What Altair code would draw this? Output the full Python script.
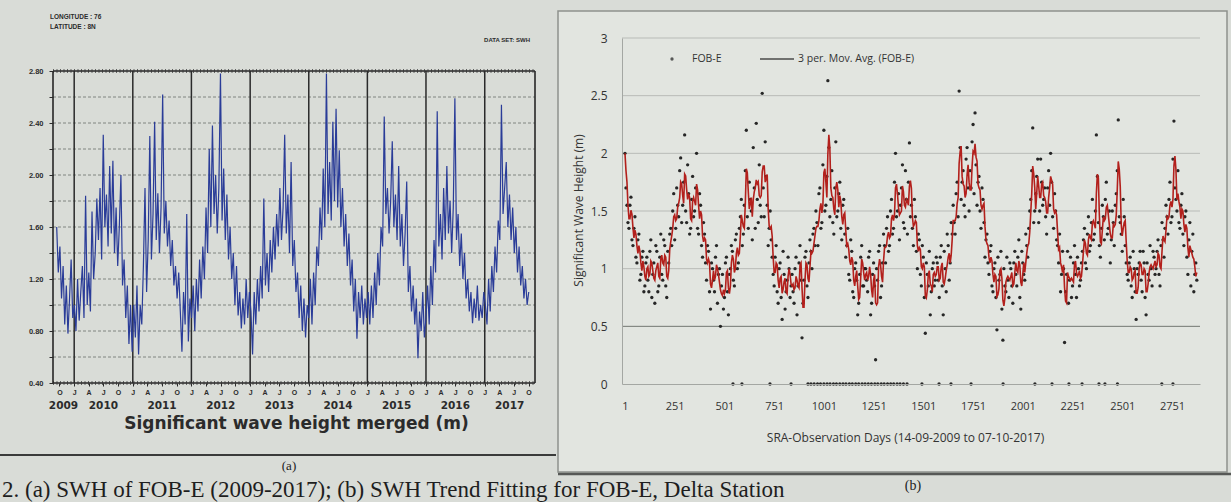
import altair as alt
import pandas as pd

# ---------------------------------------------------------------
# (a) merged significant wave height, 10-day samples from 14-09-2009
# ---------------------------------------------------------------
swh_2009 = [1.60, 1.25, 1.45, 1.05, 1.30, 0.85, 1.15, 0.78, 1.05, 1.35, 0.90]
swh_2010 = [1.00, 0.80, 1.20, 0.88, 1.10, 1.30, 0.90, 1.84, 1.00, 1.25, 0.95, 1.72,
            1.20, 1.40, 1.82, 1.50, 1.90, 1.35, 2.31, 1.60, 1.85, 1.45, 2.07, 1.55,
            2.11, 1.40, 1.75, 1.30, 1.60, 2.00, 1.15, 1.35, 0.90, 1.15, 0.70, 1.00, 0.64]
swh_2011 = [1.00, 0.75, 1.15, 0.62, 1.00, 0.85, 1.30, 1.90, 1.10, 1.50, 2.30, 1.35,
            1.70, 2.41, 1.50, 1.86, 1.40, 1.75, 2.62, 1.55, 1.80, 1.45, 1.65, 1.30,
            1.50, 1.15, 1.30, 1.05, 1.25, 0.95, 0.64, 1.10, 0.85, 1.70, 0.72, 1.05]
swh_2012 = [0.90, 1.15, 0.80, 1.20, 0.95, 1.35, 1.05, 1.45, 1.20, 1.75, 1.40, 2.20,
            1.60, 2.38, 1.70, 2.00, 1.55, 1.90, 2.78, 1.65, 2.05, 1.50, 1.85, 1.35,
            1.60, 1.20, 1.40, 1.00, 1.30, 0.92, 1.10, 0.82, 1.05, 0.85, 1.20, 0.90, 1.10]
swh_2013 = [0.95, 0.62, 1.10, 0.85, 1.20, 0.95, 1.30, 1.05, 1.82, 1.15, 1.40, 1.10,
            1.50, 1.25, 1.60, 1.35, 1.70, 1.45, 1.90, 1.50, 1.75, 2.31, 1.55, 1.85,
            1.40, 2.10, 1.30, 1.50, 1.10, 1.25, 0.90, 1.15, 0.80, 1.05, 0.75, 1.00]
swh_2014 = [0.90, 1.20, 0.85, 1.25, 1.00, 1.45, 1.30, 1.75, 1.50, 2.05, 1.60, 2.78,
            1.70, 2.10, 1.65, 2.41, 1.80, 2.51, 1.75, 2.19, 1.60, 1.90, 1.45, 1.70,
            1.30, 1.55, 1.15, 1.35, 0.95, 1.20, 0.74, 1.10, 0.90, 1.15, 0.85, 1.05, 0.90]
swh_2015 = [1.10, 0.85, 1.15, 0.90, 1.25, 1.00, 1.40, 1.15, 1.60, 1.45, 2.45, 1.70,
            1.90, 1.55, 1.80, 2.26, 1.60, 1.85, 1.50, 2.07, 1.45, 1.70, 1.30, 1.55,
            1.95, 1.10, 1.30, 0.95, 1.15, 0.85, 1.05, 0.59, 0.95, 0.80, 1.10, 0.75]
swh_2016 = [0.90, 1.15, 0.85, 1.30, 1.00, 1.50, 1.25, 2.49, 1.45, 1.70, 1.35, 1.90,
            1.50, 2.07, 1.55, 1.80, 1.40, 1.75, 2.59, 1.50, 1.70, 1.30, 1.55, 1.20,
            1.40, 1.05, 1.20, 0.95, 1.10, 0.86, 1.05, 0.90, 1.15, 0.88, 1.00, 0.90, 1.10]
swh_2017 = [1.00, 0.85, 1.20, 0.95, 1.30, 1.10, 1.45, 1.25, 1.65, 1.50, 2.54, 1.70,
            1.90, 2.10, 1.60, 1.85, 1.50, 1.75, 1.40, 1.60, 1.25, 1.45, 1.15, 1.30,
            1.05, 1.20, 1.00, 1.10]

merged_swh = (swh_2009 + swh_2010 + swh_2011 + swh_2012 + swh_2013
              + swh_2014 + swh_2015 + swh_2016 + swh_2017)
merged_df = pd.DataFrame({
    "date": pd.date_range("2009-09-14", periods=len(merged_swh), freq="10D"),
    "swh": merged_swh,
})

# ---------------------------------------------------------------
# (b) FOB-E buoy SWH against SRA observation day
#     readings on days 1, 11, 21, ... and on days 6, 16, 26, ...
# ---------------------------------------------------------------
fob_2009 = [2.00, 1.55, 1.35, 1.62, 1.20, 1.45, 1.05, 1.30, 0.95, 1.15, 0.85]
fob_2010 = [1.10, 0.80, 1.25, 0.95, 0.70, 1.15, 0.85, 1.30, 0.90, 1.20, 0.75, 1.05,
            1.35, 1.50, 1.25, 1.70, 1.45, 1.96, 1.55, 2.16, 1.40, 1.65, 1.35, 1.80,
            1.50, 2.00, 1.30, 1.55, 1.10, 1.30, 0.90, 1.15, 0.65, 1.00, 0.80, 1.20, 0.95]
fob_2011 = [0.50, 0.95, 0.75, 1.10, 0.60, 1.00, 1.15, 0.85, 1.30, 1.05, 1.45, 1.20,
            1.55, 2.20, 1.35, 1.60, 1.25, 1.70, 2.26, 1.40, 1.55, 2.52, 1.45, 1.80,
            1.20, 1.50, 1.10, 0.85, 1.20, 0.70, 1.05, 0.56, 0.95, 0.80, 1.10, 0.75]
fob_2012 = [0.95, 0.70, 1.10, 0.85, 1.20, 0.40, 0.90, 1.15, 0.75, 1.25, 1.00, 1.35,
            1.50, 1.20, 1.70, 1.40, 2.20, 1.55, 2.63, 1.45, 1.85, 1.30, 2.10, 1.50,
            1.75, 1.25, 1.60, 1.10, 1.35, 0.90, 1.15, 0.75, 1.05, 0.60, 0.95, 1.20, 0.85]
fob_2013 = [1.00, 0.80, 1.15, 0.70, 1.05, 0.21, 0.90, 1.20, 0.85, 1.30, 1.05, 1.45,
            1.20, 1.60, 1.35, 2.00, 1.50, 1.25, 1.70, 1.40, 1.85, 1.30, 2.09, 1.55,
            1.20, 1.45, 1.00, 1.25, 0.85, 1.10, 0.44, 0.95, 1.15, 0.80, 1.05, 0.90]
fob_2014 = [1.05, 0.75, 1.20, 0.60, 1.00, 1.30, 0.90, 1.40, 1.55, 1.30, 1.75, 2.54,
            1.60, 1.85, 1.45, 2.05, 1.50, 1.70, 2.25, 2.35, 1.55, 1.80, 1.35, 1.60,
            1.10, 1.30, 0.95, 1.20, 0.80, 1.05, 0.47, 0.90, 1.15, 0.38, 0.85, 1.10, 0.75]
fob_2015 = [1.00, 0.70, 1.15, 0.85, 1.25, 0.65, 1.05, 0.90, 1.20, 1.35, 1.60, 2.22,
            1.50, 1.80, 1.40, 1.95, 1.55, 1.70, 1.30, 1.85, 2.00, 1.45, 1.65, 1.25,
            1.05, 0.80, 1.15, 0.36, 0.95, 0.70, 1.10, 0.85, 1.20, 0.75, 1.00, 0.90]
fob_2016 = [1.15, 1.35, 1.00, 1.45, 1.20, 1.60, 1.30, 2.16, 1.40, 1.10, 1.55, 1.25,
            1.75, 1.35, 1.05, 1.50, 1.20, 1.65, 2.29, 1.40, 1.15, 1.45, 1.05, 0.90,
            1.10, 0.75, 1.00, 0.56, 0.95, 1.15, 0.80, 1.05, 0.60, 0.95, 1.20, 0.85, 1.10]
fob_2017 = [1.00, 1.25, 0.85, 1.40, 1.10, 1.55, 1.30, 1.75, 1.45, 2.28, 1.60, 1.85,
            1.35, 1.65, 1.20, 1.50, 0.95, 1.40, 1.15, 0.80, 1.05]

fob_mid_2009 = [1.70, 1.40, 1.55, 1.25, 1.35, 1.10, 1.25, 0.90, 1.10, 0.80, 1.05]
fob_mid_2010 = [0.90, 1.15, 0.75, 1.05, 1.20, 0.80, 1.10, 0.95, 1.25, 0.85, 1.15, 1.30,
                1.20, 1.65, 1.35, 1.55, 1.85, 1.40, 1.75, 1.50, 1.90, 1.30, 1.60, 1.45,
                1.70, 1.35, 1.65, 1.20, 1.40, 1.05, 1.20, 0.80, 1.05, 0.90, 1.10, 0.70, 1.00]
fob_mid_2011 = [0.85, 0.65, 1.05, 0.80, 0.95, 1.20, 0.90, 1.25, 1.00, 1.35, 1.60, 1.30,
                1.85, 1.45, 1.75, 1.50, 2.05, 1.35, 1.60, 1.90, 1.45, 1.70, 2.10, 1.55,
                1.35, 1.25, 0.95, 1.10, 0.80, 1.00, 0.75, 1.15, 0.65, 0.90, 1.00, 0.85]
fob_mid_2012 = [0.80, 1.00, 0.60, 1.05, 0.90, 0.70, 1.10, 0.85, 1.05, 1.15, 1.30, 1.20,
                1.40, 1.65, 1.35, 1.90, 1.50, 1.80, 2.05, 1.60, 1.40, 1.70, 1.45, 1.65,
                1.35, 1.55, 1.30, 1.20, 0.95, 1.25, 0.80, 1.00, 0.90, 0.70, 1.10, 0.85, 1.00]
fob_mid_2013 = [0.90, 1.10, 0.60, 0.95, 0.85, 1.00, 1.15, 0.75, 1.05, 1.20, 1.35, 1.15,
                1.50, 1.30, 1.75, 1.45, 1.65, 1.55, 1.90, 1.35, 1.60, 1.75, 1.45, 1.35,
                1.60, 1.15, 1.30, 0.95, 1.20, 0.75, 1.05, 0.85, 0.60, 1.00, 0.85, 1.10]
fob_mid_2014 = [0.90, 1.10, 0.85, 1.15, 0.80, 1.20, 1.05, 1.30, 1.40, 1.65, 1.45, 2.05,
                1.75, 1.55, 1.95, 1.70, 1.85, 2.10, 1.65, 1.90, 1.75, 1.50, 1.70, 1.40,
                1.25, 1.05, 1.15, 0.85, 1.00, 0.75, 1.10, 0.95, 0.65, 1.00, 0.80, 0.90, 1.05]
fob_mid_2015 = [0.85, 1.05, 0.95, 1.10, 0.75, 1.15, 0.95, 1.30, 1.10, 1.50, 1.85, 1.40,
                1.65, 1.95, 1.50, 1.75, 1.60, 1.45, 1.70, 1.55, 1.75, 1.35, 1.50, 1.20,
                1.30, 0.95, 1.00, 0.80, 1.15, 0.90, 0.75, 1.05, 0.95, 1.10, 0.85, 1.05]
fob_mid_2016 = [1.25, 1.05, 1.30, 1.15, 1.40, 1.25, 1.50, 1.80, 1.20, 1.35, 1.45, 1.60,
                1.30, 1.50, 1.25, 1.40, 1.55, 1.85, 1.45, 1.30, 1.60, 1.20, 0.95, 1.05,
                0.85, 1.15, 0.80, 1.00, 1.05, 0.90, 1.15, 0.75, 1.05, 0.90, 1.00, 1.15, 0.95]
fob_mid_2017 = [1.15, 0.95, 1.20, 1.25, 1.35, 1.45, 1.60, 1.40, 1.95, 1.70, 1.50, 1.40,
                1.55, 1.30, 1.45, 1.10, 1.25, 0.85, 1.30, 0.95, 0.90]

fob_swh = (fob_2009 + fob_2010 + fob_2011 + fob_2012 + fob_2013
           + fob_2014 + fob_2015 + fob_2016 + fob_2017)
fob_mid_swh = (fob_mid_2009 + fob_mid_2010 + fob_mid_2011 + fob_mid_2012 + fob_mid_2013
               + fob_mid_2014 + fob_mid_2015 + fob_mid_2016 + fob_mid_2017)
fob_df = pd.concat([
    pd.DataFrame({"day": [1 + 10 * i for i in range(len(fob_swh))], "swh": fob_swh}),
    pd.DataFrame({"day": [6 + 10 * i for i in range(len(fob_mid_swh))], "swh": fob_mid_swh}),
]).sort_values("day").reset_index(drop=True)

# days on which the buoy reported zero
zero_days = [544, 589, 730, 836, 921, 936, 952, 969, 984, 1001, 1017, 1032, 1049,
             1064, 1081, 1097, 1112, 1129, 1144, 1161, 1176, 1193, 1208, 1224, 1240,
             1257, 1272, 1289, 1304, 1321, 1337, 1352, 1369, 1384, 1401, 1419, 1494,
             1580, 1640, 1741, 1902, 2062, 2148, 2233, 2299, 2384, 2414, 2477, 2700, 2756]
zero_df = pd.DataFrame({"day": zero_days, "swh": [0.0] * len(zero_days)})

# tick values and labels
left_y_ticks = [0.4, 0.6, 0.8, 1.0, 1.2, 1.4, 1.6, 1.8, 2.0, 2.2, 2.4, 2.6, 2.8]
left_grid = [0.6, 0.8, 1.0, 1.2, 1.4, 1.6, 1.8, 2.0, 2.2, 2.4, 2.6]
year_starts = ["2010-01-01", "2011-01-01", "2012-01-01", "2013-01-01",
               "2014-01-01", "2015-01-01", "2016-01-01", "2017-01-01"]
year_label_text = ["2009", "2010", "2011", "2012", "2013", "2014", "2015", "2016", "2017"]
year_label_date = ["2009-10-26", "2010-07-02", "2011-07-02", "2012-07-02", "2013-07-02",
                   "2014-07-02", "2015-07-02", "2016-07-02", "2017-06-05"]
right_x_ticks = [1, 251, 501, 751, 1001, 1251, 1501, 1751, 2001, 2251, 2501, 2751]
right_y_ticks = [0, 0.5, 1, 1.5, 2, 2.5, 3]
right_grid = [0.5, 1, 1.5, 2, 2.5, 3]

month_ticks = [alt.DateTime(year=y, month=m, date=1)
               for y in range(2009, 2018) for m in (1, 4, 7, 10)
               if (2009, 10) <= (y, m) <= (2017, 10)]

# ---------------- styling ----------------
W, H = 1231, 502
PAGE = "#d9dcd7"
INK = "#2b2b2b"

LX = alt.Scale(domain=[alt.DateTime(year=2009, month=8, date=22),
                       alt.DateTime(year=2017, month=11, date=10)], range=[53, 535])
LY = alt.Scale(domain=[0.4, 2.8], range=[383, 71], nice=False, zero=False)
RX = alt.Scale(domain=[-14, 2892], range=[622, 1200], nice=False, zero=False)
RY = alt.Scale(domain=[0, 3], range=[384, 38], nice=False, zero=False)

lx_axis = alt.Axis(
    orient="bottom", offset=-(H - 383), values=month_ticks,
    labelExpr="substring(timeFormat(datum.value, '%b'), 0, 1)",
    tickSize=3, tickColor=INK, domain=False, grid=False,
    labelFont="Liberation Sans", labelFontSize=7, labelFontWeight="bold",
    labelColor=INK, labelPadding=2, labelOverlap=False, labelFlush=False,
    title="Significant wave height merged (m)", titleFont="DejaVu Sans",
    titleFontSize=17, titleFontWeight="bold", titleColor=INK,
    titleX=296, titleY=40, titleAlign="center", titleBaseline="middle",
    zindex=2,
)
ly_axis = alt.Axis(
    orient="left", offset=-53, values=left_y_ticks,
    labelExpr="(round(datum.value * 10) % 4 == 0) ? format(datum.value, '.2f') : ''",
    tickSize=4, tickColor=INK, domain=False, grid=False,
    labelFont="Liberation Sans", labelFontSize=7.5, labelFontWeight="bold",
    labelColor=INK, labelPadding=6, title=None, zindex=2,
)
rx_axis = alt.Axis(
    orient="bottom", offset=-(H - 384), values=right_x_ticks, format="d", ticks=False,
    domain=True, domainColor="#a4a7a3", grid=False,
    labelFont="Open Sans", labelFontSize=11, labelColor="#333333",
    labelPadding=16, labelOverlap=False, labelFlush=False,
    title="SRA-Observation Days (14-09-2009 to 07-10-2017)", titleFont="Open Sans",
    titleFontSize=12, titleFontWeight="normal", titleColor="#333333",
    titleX=905, titleY=53, titleAlign="center", titleBaseline="middle",
    zindex=2,
)
ry_axis = alt.Axis(
    orient="left", offset=-622, values=right_y_ticks, format=".1~f", ticks=False,
    domain=True, domainColor="#a4a7a3", grid=False,
    labelFont="Open Sans", labelFontSize=12, labelColor="#333333", labelPadding=15,
    title="Significant Wave Height (m)", titleFont="Open Sans", titleFontSize=12,
    titleFontWeight="normal", titleColor="#333333", titleAngle=270,
    titleX=-44, titleY=210, titleAlign="center", titleBaseline="middle",
    zindex=2,
)


def one_row(**cols):
    return pd.DataFrame({k: [v] for k, v in cols.items()})


# ---------------- background decorations ----------------
panel_box = alt.Chart(one_row(a=0)).mark_rect(
    fill="#e2e5e0", stroke="#8e918d", strokeWidth=1.5
).encode(x=alt.value(558), x2=alt.value(1227), y=alt.value(11), y2=alt.value(472))

panel_shadow = alt.Chart(one_row(a=0)).mark_rule(color="#565856", strokeWidth=2.5).encode(
    x=alt.value(558), x2=alt.value(1231), y=alt.value(474))

left_rule = alt.Chart(one_row(a=0)).mark_rule(color="#3a3b3a", strokeWidth=2).encode(
    x=alt.value(0), x2=alt.value(556), y=alt.value(455))

back = alt.layer(panel_box, panel_shadow, left_rule)

# ---------------- panel (a) ----------------
grid_a = alt.Chart(pd.DataFrame({"v": left_grid})).mark_rule(
    color="#777a76", strokeWidth=0.9, strokeDash=[3, 2]
).encode(y=alt.Y("v:Q", scale=LY, axis=ly_axis), x=alt.value(53), x2=alt.value(535))

frame_h = alt.Chart(pd.DataFrame({"v": [0.4, 2.8]})).mark_rule(
    color="#262626", strokeWidth=1.6
).encode(y=alt.Y("v:Q", scale=LY, axis=ly_axis), x=alt.value(53), x2=alt.value(535))

frame_h_dots = alt.Chart(pd.DataFrame({"v": [0.4, 2.8]})).mark_rule(
    color="#3c3c3c", strokeWidth=3.5, strokeDash=[1, 2.5]
).encode(y=alt.Y("v:Q", scale=LY, axis=ly_axis), x=alt.value(53), x2=alt.value(535))

frame_v = alt.Chart(pd.DataFrame({"date": ["2009-08-22", "2017-11-10"]})).mark_rule(
    color="#262626", strokeWidth=1.6
).encode(x=alt.X("date:T", scale=LX, axis=lx_axis), y=alt.value(71), y2=alt.value(383))

year_lines = alt.Chart(pd.DataFrame({"date": year_starts})).mark_rule(
    color="#2a2a2a", strokeWidth=1.5
).encode(x=alt.X("date:T", scale=LX, axis=lx_axis), y=alt.value(71), y2=alt.value(383))

swh_line = alt.Chart(merged_df).mark_line(
    color="#2a3c98", strokeWidth=1.2, strokeJoin="miter"
).encode(
    x=alt.X("date:T", scale=LX, axis=lx_axis),
    y=alt.Y("swh:Q", scale=LY, axis=ly_axis),
)

year_labels = alt.Chart(pd.DataFrame({"date": year_label_date, "label": year_label_text})).mark_text(
    font="DejaVu Sans", fontSize=10.5, fontWeight="bold", color=INK, baseline="middle"
).encode(x=alt.X("date:T", scale=LX, axis=lx_axis), y=alt.value(406), text="label:N")

panel_a = alt.layer(grid_a, frame_h, frame_h_dots, frame_v, year_lines, swh_line, year_labels)

# ---------------- panel (b) ----------------
grid_b = alt.Chart(pd.DataFrame({"v": right_grid})).mark_rule(strokeWidth=1).encode(
    y=alt.Y("v:Q", scale=RY, axis=ry_axis),
    x=alt.value(622), x2=alt.value(1200),
    color=alt.condition("datum.v == 0.5", alt.value("#737672"), alt.value("#b8bbb7")),
)

fob_points = alt.Chart(fob_df).mark_circle(size=11, color="#1b1b1b", opacity=0.95).encode(
    x=alt.X("day:Q", scale=RX, axis=rx_axis),
    y=alt.Y("swh:Q", scale=RY, axis=ry_axis),
)

zero_points = alt.Chart(zero_df).mark_circle(size=11, color="#1b1b1b", opacity=0.95).encode(
    x=alt.X("day:Q", scale=RX, axis=rx_axis),
    y=alt.Y("swh:Q", scale=RY, axis=ry_axis),
)

moving_avg = alt.Chart(fob_df).transform_window(
    ma="mean(swh)", frame=[-2, 0], sort=[alt.SortField("day")]
).mark_line(color="#b3201c", strokeWidth=1.6).encode(
    x=alt.X("day:Q", scale=RX, axis=rx_axis),
    y=alt.Y("ma:Q", scale=RY, axis=ry_axis),
)

panel_b = alt.layer(grid_b, fob_points, zero_points, moving_avg)

# ---------------- legend, captions and page text ----------------
legend_dot = alt.Chart(one_row(a=0)).mark_circle(size=11, color="#1b1b1b").encode(
    x=alt.value(672), y=alt.value(59))
legend_line = alt.Chart(one_row(a=0)).mark_rule(color="#4a4a4a", strokeWidth=1.5).encode(
    x=alt.value(760), x2=alt.value(794), y=alt.value(59))


def label(text, x, y, size, font="Open Sans", weight="normal", align="left",
          color="#333333", angle=0, baseline="middle"):
    return alt.Chart(one_row(t=text)).mark_text(
        font=font, fontSize=size, fontWeight=weight, align=align, color=color,
        angle=angle, baseline=baseline,
    ).encode(x=alt.value(x), y=alt.value(y), text="t:N")


texts = alt.layer(
    legend_dot, legend_line,
    label("FOB-E", 692, 59, 10.5),
    label("3 per. Mov. Avg. (FOB-E)", 798, 59, 10.5),
    label("LONGITUDE : 76", 50, 17, 6.5, font="Liberation Sans", weight="bold", color=INK),
    label("LATITUDE : 8N", 50, 27, 6.5, font="Liberation Sans", weight="bold", color=INK),
    label("DATA SET: SWH", 530, 40, 6, font="Liberation Sans", weight="bold",
          align="right", color=INK),
    label("(a)", 289, 466, 13, font="Liberation Serif", align="center", color="#222222"),
    label("(b)", 913, 486, 14, font="Liberation Serif", align="center", color="#222222"),
    label("2. (a) SWH of FOB-E (2009-2017); (b) SWH Trend Fitting for FOB-E, Delta Station",
          2, 497, 23, font="Liberation Serif", color="#1e1e1e", baseline="alphabetic"),
)

chart = alt.layer(back, panel_a, panel_b, texts).resolve_scale(
    x="independent", y="independent"
).properties(
    width=W, height=H, background=PAGE, padding=0, autosize=alt.AutoSizeParams(type="none")
).configure_view(stroke=None)

chart.save("out.html", embed_options={"renderer": "svg", "actions": False})
